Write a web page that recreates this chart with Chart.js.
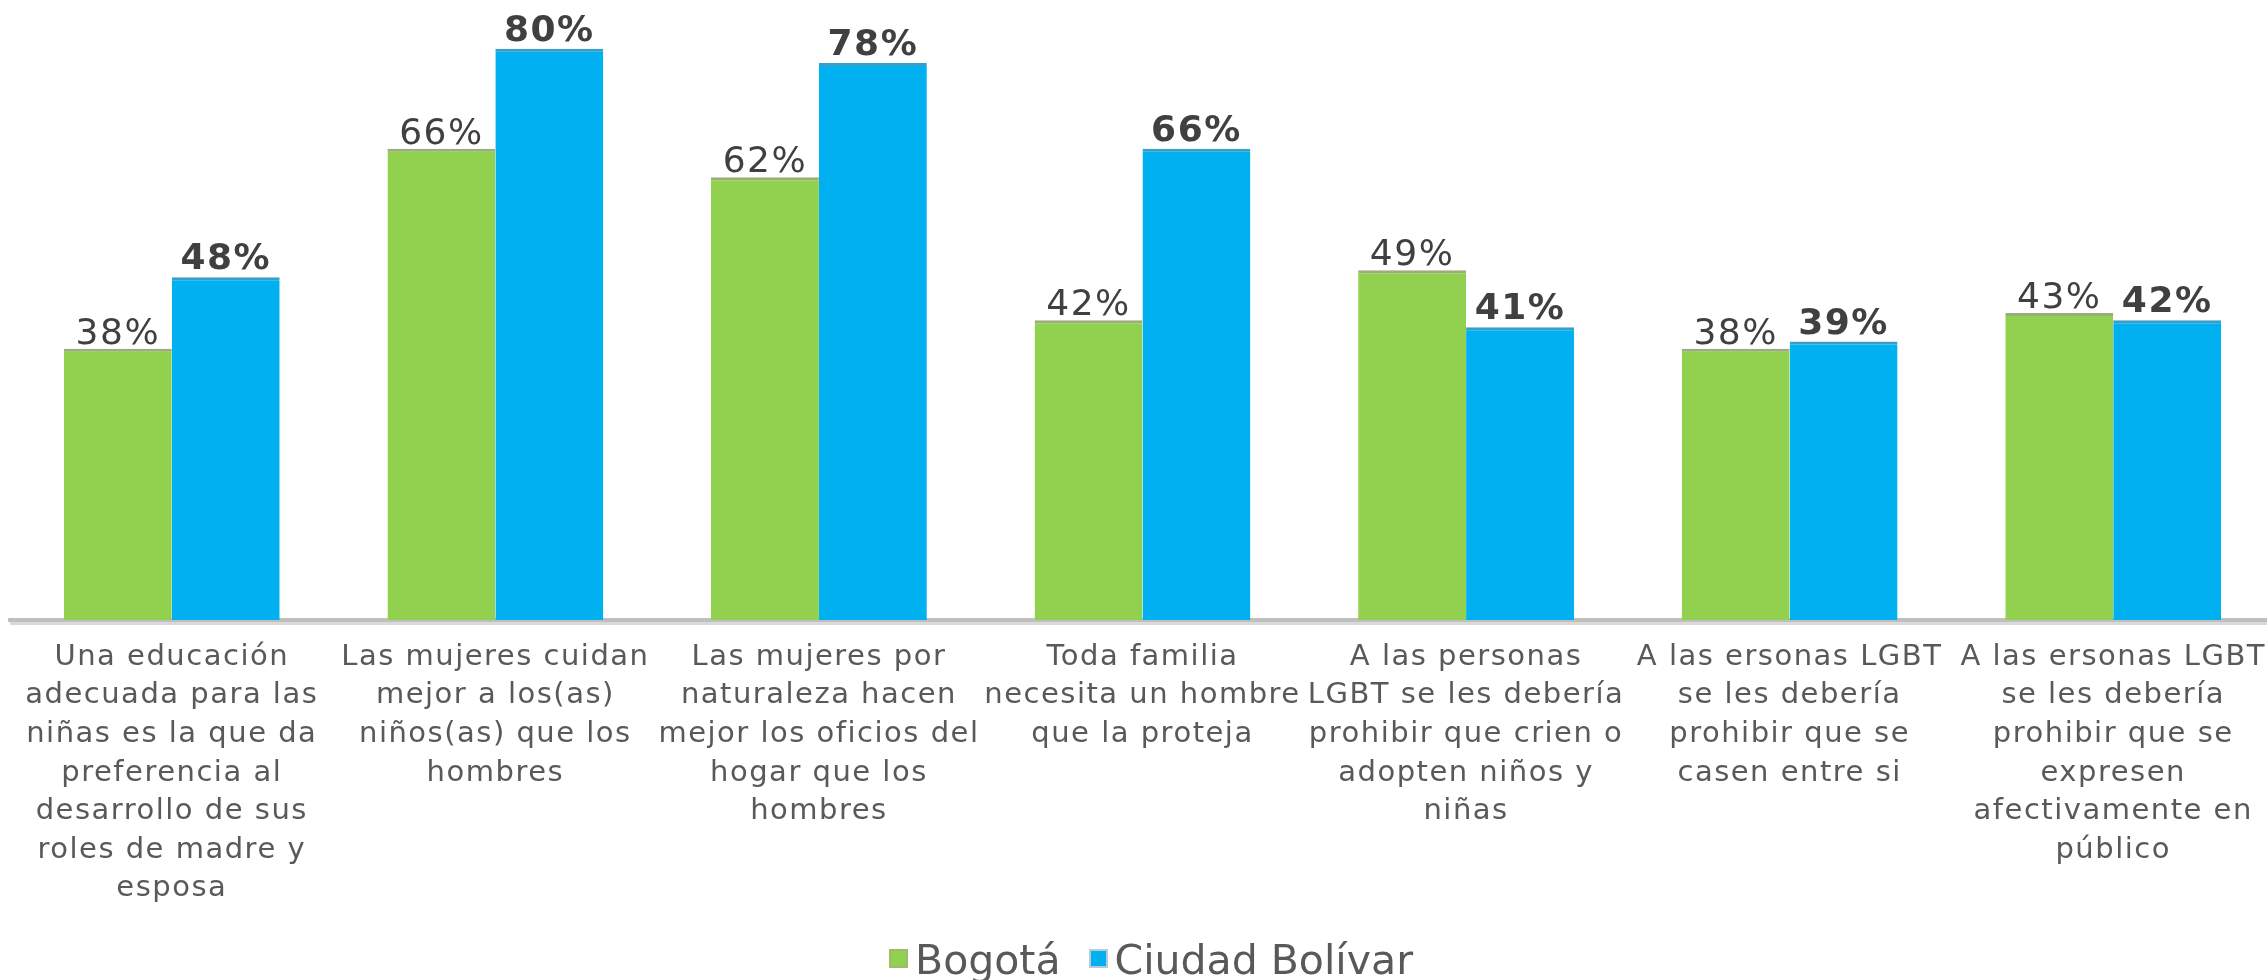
<!DOCTYPE html>
<html>
<head>
<meta charset="utf-8">
<script src="https://cdn.jsdelivr.net/npm/chart.js@4.4.1/dist/chart.umd.min.js"></script>
<style>
  html, body { margin: 0; padding: 0; background: #fff; overflow: hidden; }
  #wrap { position: relative; width: 2277px; height: 980px; }
  /* leyenda propia en HTML */
  #leyenda {
    position: absolute; left: 889px; top: 940px;
    font: 41px/41px "DejaVu Sans"; color: #595959; white-space: nowrap;
  }
  #leyenda .item + .item { margin-left: 28px; }
  #leyenda .caja {
    display: inline-block; width: 19px; height: 19px; margin-right: 7px;
    vertical-align: 6px; box-sizing: border-box; border: 2px solid;
  }
</style>
</head>
<body>
<div id="wrap">
  <canvas id="encuestaChart"></canvas>
  <div id="leyenda"></div>
</div>
<script>
// Categorías (cada una partida en líneas como en la imagen)
const categorias = [
    ['Una educación', 'adecuada para las', 'niñas es la que da', 'preferencia al', 'desarrollo de sus', 'roles de madre y', 'esposa'],
    ['Las mujeres cuidan', 'mejor a los(as)', 'niños(as) que los', 'hombres'],
    ['Las mujeres por', 'naturaleza hacen', 'mejor los oficios del', 'hogar que los', 'hombres'],
    ['Toda familia', 'necesita un hombre', 'que la proteja'],
    ['A las personas', 'LGBT se les debería', 'prohibir que crien o', 'adopten niños y', 'niñas'],
    ['A las ersonas LGBT', 'se les debería', 'prohibir que se', 'casen entre si'],
    ['A las ersonas LGBT', 'se les debería', 'prohibir que se', 'expresen', 'afectivamente en', 'público']
];

// Valores en %
const bogota = [38, 66, 62, 42, 49, 38, 43];
const ciudadBolivar = [48, 80, 78, 66, 41, 39, 42];

const nombresSeries = ['Bogotá', 'Ciudad Bolívar'];
const colores = ['#92D050', '#00B0F0'];
const coloresBorde = ['#9AAE7B', '#3C9DC6'];

// El texto original se ve un poco "estirado", así que separo un poco las letras
// (solo al dibujar, para no cambiar el cálculo del layout)
const espaciado = {
    id: 'espaciado',
    beforeDraw(chart) { chart.ctx.letterSpacing = '1.5px'; }
};

// Línea gris clara debajo del eje (sombra)
const sombraEje = {
    id: 'sombraEje',
    afterDraw(chart) {
        const x = chart.scales.x;
        const ctx = chart.ctx;
        ctx.save();
        ctx.strokeStyle = '#D9D9D9';
        ctx.lineWidth = 3;
        ctx.beginPath();
        ctx.moveTo(x.left, x.top + 3.5);
        ctx.lineTo(x.right, x.top + 3.5);
        ctx.stroke();
        ctx.restore();
    }
};

// Plugin sencillo para escribir el % encima de cada barra
const etiquetasValor = {
    id: 'etiquetasValor',
    afterDatasetsDraw(chart) {
        const ctx = chart.ctx;
        chart.data.datasets.forEach((ds, i) => {
            const meta = chart.getDatasetMeta(i);
            ctx.save();
            ctx.font = (i === 1 ? 'bold ' : '') + '36px "DejaVu Sans"';
            ctx.fillStyle = '#404040';
            ctx.textAlign = 'center';
            ctx.textBaseline = 'alphabetic';
            meta.data.forEach((bar, j) => {
                ctx.fillText(ds.data[j] + '%', bar.x, bar.y - (i === 1 ? 8 : 5));
            });
            ctx.restore();
        });
    }
};

document.addEventListener('DOMContentLoaded', function() {
    const ctx = document.getElementById('encuestaChart').getContext('2d');

    new Chart(ctx, {
        type: 'bar',
        data: {
            labels: categorias,
            datasets: [
                {
                    label: nombresSeries[0],
                    data: bogota,
                    backgroundColor: colores[0],
                    borderColor: coloresBorde[0],
                    borderWidth: { top: 3, right: 0, bottom: 0, left: 0 },
                    borderSkipped: false
                },
                {
                    label: nombresSeries[1],
                    data: ciudadBolivar,
                    backgroundColor: colores[1],
                    borderColor: coloresBorde[1],
                    borderWidth: { top: 3, right: 0, bottom: 0, left: 0 },
                    borderSkipped: false
                }
            ]
        },
        options: {
            responsive: true,
            maintainAspectRatio: false,
            animation: false,
            layout: {
                // abajo queda sitio para la leyenda HTML
                padding: { top: 6, left: 10, right: 2, bottom: 54 }
            },
            datasets: {
                bar: {
                    categoryPercentage: 0.667,
                    barPercentage: 1.0
                }
            },
            plugins: {
                legend: { display: false },
                tooltip: { enabled: false }
            },
            scales: {
                x: {
                    grid: { display: false, drawTicks: false },
                    border: { display: true, color: '#BFBFBF', width: 4 },
                    ticks: {
                        autoSkip: false,
                        maxRotation: 0,
                        minRotation: 0,
                        padding: 18,
                        color: '#595959',
                        font: { family: 'DejaVu Sans', size: 29, lineHeight: 1.33 }
                    }
                },
                y: {
                    display: false,
                    min: 0,
                    max: 86
                }
            }
        },
        plugins: [espaciado, sombraEje, etiquetasValor]
    });

    // Leyenda en HTML (la de Chart.js separa demasiado el cuadrito del texto)
    const leyenda = document.getElementById('leyenda');
    nombresSeries.forEach((nombre, i) => {
        const item = document.createElement('span');
        item.className = 'item';
        const caja = document.createElement('span');
        caja.className = 'caja';
        caja.style.background = colores[i];
        caja.style.borderColor = i === 0 ? '#9DBB6A' : '#B5CCD6';
        item.appendChild(caja);
        item.appendChild(document.createTextNode(nombre));
        leyenda.appendChild(item);
    });
});
</script>
</body>
</html>
